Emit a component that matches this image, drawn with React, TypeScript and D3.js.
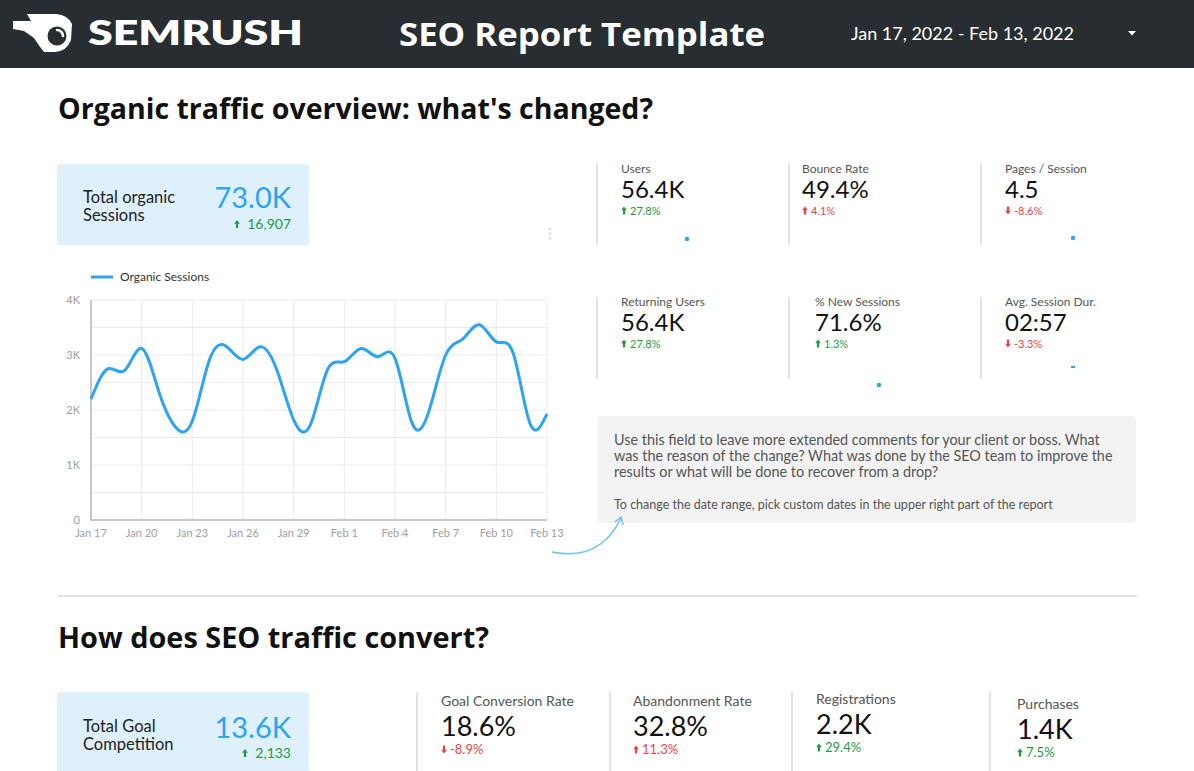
import React from "react";
import * as d3 from "d3";

const dates: string[] = [
  "2022-01-17","2022-01-18","2022-01-19","2022-01-20","2022-01-21","2022-01-22","2022-01-23",
  "2022-01-24","2022-01-25","2022-01-26","2022-01-27","2022-01-28","2022-01-29","2022-01-30",
  "2022-01-31","2022-02-01","2022-02-02","2022-02-03","2022-02-04","2022-02-05","2022-02-06",
  "2022-02-07","2022-02-08","2022-02-09","2022-02-10","2022-02-11","2022-02-12","2022-02-13",
];
const sessions: number[] = [
  2200, 2750, 2720, 3120, 2350, 1690, 1800,
  2900, 3160, 2920, 3150, 2730, 1820, 1740,
  2730, 2880, 3120, 2970, 2940, 1770, 1970,
  3000, 3290, 3550, 3240, 3030, 1750, 1930,
];
const yTicks: number[] = [0, 1000, 2000, 3000, 4000];
const yGrid: number[] = [0, 500, 1000, 1500, 2000, 2500, 3000, 3500, 4000];
const yTickLabels: string[] = ["0", "1K", "2K", "3K", "4K"];

const kpiLabels: string[] = ["Users", "Bounce Rate", "Pages / Session", "Returning Users", "% New Sessions", "Avg. Session Dur."];
const kpiValues: string[] = ["56.4K", "49.4%", "4.5", "56.4K", "71.6%", "02:57"];
const kpiDeltas: string[] = ["27.8%", "4.1%", "-8.6%", "27.8%", "1.3%", "-3.3%"];
const kpiUp: boolean[] = [true, true, false, true, true, false];
const kpiGood: boolean[] = [true, false, false, true, true, false];

const convLabels: string[] = ["Goal Conversion Rate", "Abandonment Rate", "Registrations", "Purchases"];
const convValues: string[] = ["18.6%", "32.8%", "2.2K", "1.4K"];
const convDeltas: string[] = ["-8.9%", "11.3%", "29.4%", "7.5%"];
const convUp: boolean[] = [false, true, true, true];
const convGood: boolean[] = [false, false, true, true];

const FONT = "Lato, 'Open Sans', sans-serif";
const HFONT = "'Open Sans', Lato, sans-serif";
const BLUE = "#2ea3f0";
const GREEN = "#1f9a43";
const RED = "#ee3f45";

function Arrow({ x, y, up, color }: { x: number; y: number; up: boolean; color: string }) {
  const h = 8;
  const d = up
    ? `M${x},${y - h} L${x - 2.8},${y - h + 3.8} L${x - 1.1},${y - h + 3.8} L${x - 1.1},${y} L${x + 1.1},${y} L${x + 1.1},${y - h + 3.8} L${x + 2.8},${y - h + 3.8} Z`
    : `M${x},${y} L${x - 2.8},${y - 3.8} L${x - 1.1},${y - 3.8} L${x - 1.1},${y - h} L${x + 1.1},${y - h} L${x + 1.1},${y - 3.8} L${x + 2.8},${y - 3.8} Z`;
  return <path d={d} fill={color} />;
}

function Delta({ x, y, up, good, text, size }: { x: number; y: number; up: boolean; good: boolean; text: string; size: number }) {
  const c = good ? GREEN : RED;
  return (
    <g>
      <Arrow x={x + 3} y={y - 0.5} up={up} color={c} />
      <text x={x + 9} y={y} fontSize={size} fill={c} fontFamily={FONT}>{text}</text>
    </g>
  );
}

export default function App() {
  const parse = d3.timeParse("%Y-%m-%d");
  const pts = dates.map((d, i) => ({ date: parse(d) as Date, v: sessions[i] }));
  const x = d3.scaleTime().domain([pts[0].date, pts[pts.length - 1].date]).range([91, 547]);
  const y = d3.scaleLinear().domain([0, 4000]).range([520, 300]);
  const line = d3.line<{ date: Date; v: number }>().x((p) => x(p.date)).y((p) => y(p.v)).curve(d3.curveNatural);
  const xTickVals = d3.range(0, dates.length, 3).map((i) => pts[i].date);
  const fmt = d3.timeFormat("%b %-d");

  const tileX1 = [621, 802, 1005, 621, 815, 1005];
  const tileRowY = [0, 0, 0, 133, 133, 133];
  const dots: [number, number][] = [[687, 239], [1073, 238], [879, 385]];

  const convX = [441, 633, 816, 1017];
  const convDy = [0, 0, -2, 3];

  return (
    <div style={{ position: "fixed", left: 0, top: 0, width: 1194, height: 771, overflow: "hidden", background: "#fff" }}>
      <svg width={1194} height={771} style={{ display: "block" }}>
        <rect x={0} y={0} width={1194} height={771} fill="#fff" />
        {/* Header */}
        <rect x={0} y={0} width={1194} height={68} fill="#272d31" />
        <g>
          <path d="M27,14 L56,14 Q68,15 72,24 L71,40 Q67,51 55,52 L44,52 Q39,46 34,38 L24,31 L13,29 L13,21 L31,21 Z" fill="#fff" />
          <circle cx={57} cy={36} r={14} fill="#fff" />
          <circle cx={57} cy={36} r={9.5} fill="#272d31" />
          <path d="M57,30 A6,6 0 0 1 63,36" fill="none" stroke="#fff" strokeWidth={2.6} strokeLinecap="round" />
          <text x={88} y={45} fontSize={33} fontWeight={800} fill="#fff" fontFamily={FONT} textLength={215} lengthAdjust="spacingAndGlyphs">SEMRUSH</text>
        </g>
        <text x={399} y={46} fontSize={32} fontWeight={700} fill="#fff" fontFamily={HFONT} textLength={366} lengthAdjust="spacingAndGlyphs">SEO Report Template</text>
        <text x={851} y={40} fontSize={18} fill="#fff" fontFamily={FONT}>Jan 17, 2022 - Feb 13, 2022</text>
        <path d="M1128,31 L1136,31 L1132,35.5 Z" fill="#fff" />

        {/* Section 1 title */}
        <text x={58} y={119} fontSize={28} fontWeight={700} fill="#111" fontFamily={HFONT} textLength={595} lengthAdjust="spacingAndGlyphs">Organic traffic overview: what's changed?</text>

        {/* Total organic sessions box */}
        <rect x={57} y={164} width={252} height={81} rx={3} fill="#def0fc" />
        <text x={83} y={203} fontSize={16.5} fill="#222" fontFamily={FONT}>Total organic</text>
        <text x={83} y={221} fontSize={16.5} fill="#222" fontFamily={FONT}>Sessions</text>
        <text x={291} y={208} textAnchor="end" fontSize={29} fill={BLUE} fontFamily={FONT}>73.0K</text>
        <g>
          <Arrow x={237} y={228} up={true} color={GREEN} />
          <text x={291} y={229} textAnchor="end" fontSize={14} fill={GREEN} fontFamily={FONT}>16,907</text>
        </g>
        {[229, 233.5, 238].map((cy) => <circle key={cy} cx={550} cy={cy} r={1.6} fill="#e2e2e2" />)}

        {/* KPI tiles */}
        {[597, 789, 981].map((lx) => (
          <g key={lx}>
            <line x1={lx} x2={lx} y1={163} y2={245} stroke="#e2e2e2" strokeWidth={2} />
            <line x1={lx} x2={lx} y1={297} y2={379} stroke="#e2e2e2" strokeWidth={2} />
          </g>
        ))}
        {kpiLabels.map((lab, i) => (
          <g key={lab}>
            <text x={tileX1[i]} y={173 + tileRowY[i]} fontSize={12} fill="#555" fontFamily={FONT}>{lab}</text>
            <text x={tileX1[i]} y={198 + tileRowY[i]} fontSize={24} fill="#111" fontFamily={FONT}>{kpiValues[i]}</text>
            <Delta x={tileX1[i]} y={215 + tileRowY[i]} up={kpiUp[i]} good={kpiGood[i]} text={kpiDeltas[i]} size={11} />
          </g>
        ))}
        {dots.map(([cx, cy], i) => <circle key={i} cx={cx} cy={cy} r={2.2} fill={BLUE} />)}
        <rect x={1071} y={366} width={4} height={2} fill={BLUE} />

        {/* Legend */}
        <line x1={91} x2={113} y1={277} y2={277} stroke={BLUE} strokeWidth={3} />
        <text x={120} y={281} fontSize={12} fill="#333" fontFamily={FONT}>Organic Sessions</text>

        {/* Chart grid */}
        {yGrid.map((v) => (
          <line key={v} x1={91} x2={547} y1={y(v)} y2={y(v)} stroke="#ebebeb" strokeWidth={1} />
        ))}
        {xTickVals.map((d) => (
          <line key={+d} x1={x(d)} x2={x(d)} y1={300} y2={520} stroke="#ebebeb" strokeWidth={1} />
        ))}
        <line x1={91} x2={91} y1={300} y2={520.5} stroke="#9a9a9a" strokeWidth={1} />
        <line x1={91} x2={547} y1={520} y2={520} stroke="#9a9a9a" strokeWidth={1} />
        {yTicks.map((v, i) => (
          <text key={v} x={80} y={y(v) + 4} textAnchor="end" fontSize={11} fill="#9e9e9e" fontFamily={FONT}>{yTickLabels[i]}</text>
        ))}
        {xTickVals.map((d) => (
          <text key={+d} x={x(d)} y={537} textAnchor="middle" fontSize={11} fill="#9e9e9e" fontFamily={FONT}>{fmt(d)}</text>
        ))}
        <path d={line(pts) || ""} fill="none" stroke={BLUE} strokeWidth={3} strokeLinejoin="round" />

        {/* Comment box */}
        <rect x={598} y={416} width={538} height={107} rx={4} fill="#f3f3f3" />
        <text fontSize={14.4} fill="#555" fontFamily={FONT}>
          <tspan x={614} y={445}>Use this field to leave more extended comments for your client or boss. What</tspan>
          <tspan x={614} y={461}>was the reason of the change? What was done by the SEO team to improve the</tspan>
          <tspan x={614} y={477}>results or what will be done to recover from a drop?</tspan>
        </text>
        <text x={614} y={509} fontSize={12.5} fill="#555" fontFamily={FONT}>To change the date range, pick custom dates in the upper right part of the report</text>
        <path d="M552,552 Q600,562 621,518" fill="none" stroke="#6cc0f2" strokeWidth={1.5} />
        <path d="M615,522 L621,517 L623,525" fill="none" stroke="#6cc0f2" strokeWidth={1.5} />

        {/* Divider */}
        <line x1={58} x2={1137} y1={596} y2={596} stroke="#e4e4e4" strokeWidth={2} />

        {/* Section 2 */}
        <text x={58} y={648} fontSize={28} fontWeight={700} fill="#111" fontFamily={HFONT} textLength={431} lengthAdjust="spacingAndGlyphs">How does SEO traffic convert?</text>
        <rect x={57} y={692} width={252} height={90} rx={3} fill="#def0fc" />
        <text x={83} y={732} fontSize={16.5} fill="#222" fontFamily={FONT}>Total Goal</text>
        <text x={83} y={750} fontSize={16.5} fill="#222" fontFamily={FONT}>Competition</text>
        <text x={291} y={738} textAnchor="end" fontSize={29} fill={BLUE} fontFamily={FONT}>13.6K</text>
        <g>
          <Arrow x={245} y={757} up={true} color={GREEN} />
          <text x={291} y={758} textAnchor="end" fontSize={14} fill={GREEN} fontFamily={FONT}>2,133</text>
        </g>
        {[417, 610, 792, 990].map((lx) => (
          <line key={lx} x1={lx} x2={lx} y1={692} y2={771} stroke="#e2e2e2" strokeWidth={2} />
        ))}
        {convLabels.map((lab, i) => (
          <g key={lab}>
            <text x={convX[i]} y={706 + convDy[i]} fontSize={14} fill="#555" fontFamily={FONT}>{lab}</text>
            <text x={convX[i]} y={736 + convDy[i]} fontSize={27} fill="#111" fontFamily={FONT}>{convValues[i]}</text>
            <Delta x={convX[i]} y={754 + convDy[i]} up={convUp[i]} good={convGood[i]} text={convDeltas[i]} size={13} />
          </g>
        ))}
      </svg>
    </div>
  );
}
